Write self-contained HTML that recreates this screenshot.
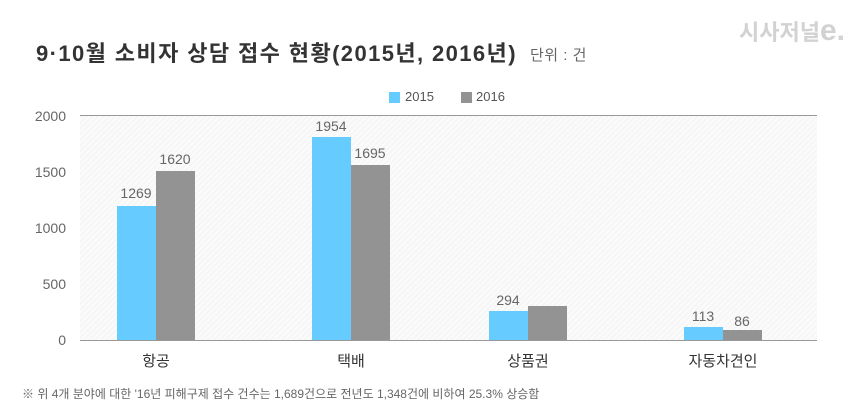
<!DOCTYPE html>
<html><head><meta charset="utf-8"><style>
body{margin:0;width:860px;height:414px;background:#fff;overflow:hidden;position:relative;font-family:"Liberation Sans","Noto Sans CJK KR",sans-serif}
.a{position:absolute;white-space:nowrap}
.yl{position:absolute;right:794px;font-size:14px;color:#666;line-height:14px}
.b{position:absolute;width:39px}
.c{background:#66ccff}.g{background:#939393}
.v{position:absolute;width:60px;text-align:center;font-size:14px;color:#666;line-height:14px}
.cat{position:absolute;width:120px;text-align:center;font-size:15px;color:#333;top:350px}
</style></head><body>
<div class="a" style="left:36px;top:36px;font-size:22px;font-weight:bold;color:#333;letter-spacing:1.4px">9·10월 소비자 상담 접수 현황(2015년, 2016년)</div>
<div class="a" style="left:530px;top:44px;font-size:15px;color:#666;letter-spacing:0.5px">단위 : 건</div>
<div class="a" style="left:739px;top:14px;font-size:22px;font-weight:bold;color:#d2d2d2;letter-spacing:0px">시사저널<span style="font-size:30px">e.</span></div>
<div class="a" style="left:389px;top:92px;width:11px;height:11px;background:#66ccff"></div>
<div class="a" style="left:405px;top:89px;font-size:13px;color:#555">2015</div>
<div class="a" style="left:461px;top:92px;width:11px;height:11px;background:#939393"></div>
<div class="a" style="left:476px;top:89px;font-size:13px;color:#555">2016</div>
<div class="a" style="left:80px;top:116px;width:737px;height:224px;background:repeating-linear-gradient(135deg,#f6f6f6 0 2px,#fbfbfb 2px 4px)"></div>
<div class="a" style="left:80px;top:115px;width:737px;height:1px;background:#999"></div>
<div class="a" style="left:80px;top:340px;width:737px;height:1px;background:#999"></div>
<div class="yl" style="top:109px">2000</div>
<div class="yl" style="top:165px">1500</div>
<div class="yl" style="top:221px">1000</div>
<div class="yl" style="top:277px">500</div>
<div class="yl" style="top:333px">0</div>
<div class="b c" style="left:117px;top:206px;height:134px"></div>
<div class="b g" style="left:156px;top:171px;height:169px"></div>
<div class="b c" style="left:312px;top:137px;height:203px"></div>
<div class="b g" style="left:351px;top:165px;height:175px"></div>
<div class="b c" style="left:489px;top:311px;height:29px"></div>
<div class="b g" style="left:528px;top:306px;height:34px"></div>
<div class="b c" style="left:684px;top:327px;height:13px"></div>
<div class="b g" style="left:723px;top:330px;height:10px"></div>
<div class="v" style="left:106px;top:186px">1269</div>
<div class="v" style="left:145px;top:152px">1620</div>
<div class="v" style="left:301px;top:119px">1954</div>
<div class="v" style="left:340px;top:146px">1695</div>
<div class="v" style="left:478px;top:293px">294</div>
<div class="v" style="left:673px;top:309px">113</div>
<div class="v" style="left:712px;top:314px">86</div>
<div class="cat" style="left:96px">항공</div>
<div class="cat" style="left:291px">택배</div>
<div class="cat" style="left:468px">상품권</div>
<div class="cat" style="left:663px">자동차견인</div>
<div class="a" style="left:22px;top:385px;font-size:12px;color:#666">※ 위 4개 분야에 대한 '16년 피해구제 접수 건수는 1,689건으로 전년도 1,348건에 비하여 25.3% 상승함</div>
</body></html>
